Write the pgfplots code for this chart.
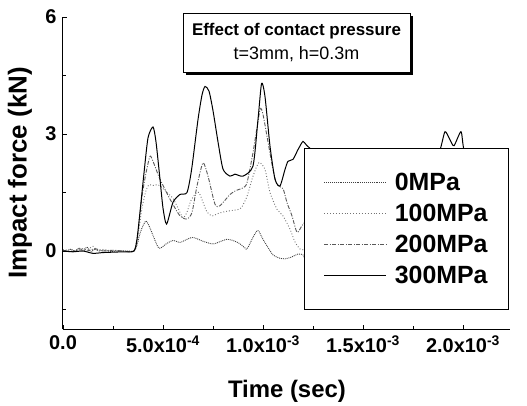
\documentclass[border=0pt]{standalone}
\usepackage{fontspec}
\setmainfont{Liberation Sans}
\usepackage{pgfplots}
\pgfplotsset{compat=1.18}
\usetikzlibrary{shadows}
\begin{document}
\begin{tikzpicture}
\path[use as bounding box] (-63bp,-77bp) rectangle (464bp,329bp);
\begin{axis}[
  scale only axis, width=447bp, height=312bp,
  xmin=0, xmax=2.235, ymin=-2, ymax=6,
  axis x line*=bottom, axis y line*=left,
  axis line style={line width=1bp, -},
  tick align=inside,
  major tick length=4bp, minor tick length=3bp,
  tick style={line width=0.8bp, black},
  xtick={0,0.5,1,1.5,2},
  minor xtick={0.25,0.75,1.25,1.75},
  xticklabels={0.0, 5.0x10\textsuperscript{-4}, 1.0x10\textsuperscript{-3}, 1.5x10\textsuperscript{-3}, 2.0x10\textsuperscript{-3}},
  ytick={0,3,6},
  minor ytick={-1.5,1.5,4.5},
  /pgf/number format/assume math mode=true,
  tick label style={font=\fontsize{20}{20}\selectfont\bfseries},
  xticklabel style={yshift=-3bp},
  yticklabel style={xshift=-3bp},
  xlabel={Time (sec)},
  ylabel={Impact force (kN)},
  xlabel style={font=\fontsize{24}{24}\selectfont\bfseries, at={(axis description cs:0.501,-0.2)}, anchor=center},
  ylabel style={font=\fontsize{26}{26}\selectfont\bfseries, at={(axis description cs:-0.0962,0.5)}, anchor=center, rotate=0},
  clip=false,
  legend cell align=left,
  legend image code/.code={\draw[#1] (0bp,0bp) -- (62bp,0bp);},
  legend style={draw=black, line width=0.8bp, fill=white,
    at={(axis cs:2.23,2.65)}, anchor=north east,
    font=\fontsize{25}{25}\selectfont\bfseries,
    inner xsep=19bp, inner ysep=23bp, row sep=8bp,
    /tikz/every odd column/.append style={column sep=6bp}},
]
\addplot[black!75, line width=0.9bp, densely dotted, smooth, tension=0.4] coordinates {
(0,0.03)(0.02,0.0)(0.04,0.05)(0.06,-0.01)(0.08,0.08)(0.1,0.02)(0.12,0.1)(0.14,-0.02)(0.16,0.05)(0.18,0.0)(0.2,0.02)(0.24,-0.01)(0.28,0.0)(0.32,0.0)(0.355,0.0)(0.37,0.15)(0.385,0.45)(0.4,0.65)(0.415,0.77)(0.43,0.65)(0.45,0.4)(0.475,0.1)(0.49,0.08)(0.515,0.18)(0.55,0.27)(0.585,0.22)(0.62,0.3)(0.65,0.35)(0.7,0.25)(0.75,0.18)(0.79,0.25)(0.82,0.3)(0.85,0.27)(0.88,0.2)(0.91,0.08)(0.92,0.05)(0.95,0.35)(0.97,0.52)(0.98,0.5)(1.0,0.3)(1.03,0.05)(1.05,-0.1)(1.08,-0.18)(1.11,-0.2)(1.14,-0.16)(1.175,-0.08)(1.2,-0.1)(1.215,-0.3)(1.225,-0.63)(1.3,-0.9)
};
\addlegendentry{0MPa}
\addplot[black!55, line width=0.9bp, dotted, smooth, tension=0.4] coordinates {
(0,0.0)(0.03,0.04)(0.06,0.0)(0.09,0.07)(0.12,0.03)(0.15,0.12)(0.17,0.02)(0.2,0.04)(0.25,0.0)(0.3,0.01)(0.355,0.0)(0.375,0.4)(0.395,1.1)(0.415,1.55)(0.43,1.7)(0.45,1.68)(0.475,1.7)(0.5,1.6)(0.52,1.5)(0.55,1.35)(0.575,1.1)(0.6,0.85)(0.62,1.0)(0.64,1.3)(0.665,1.48)(0.68,1.5)(0.7,1.25)(0.72,1.0)(0.745,0.9)(0.78,0.97)(0.82,1.02)(0.86,1.05)(0.89,1.1)(0.92,1.4)(0.95,1.92)(0.98,2.27)(1.01,2.09)(1.035,1.5)(1.07,1.07)(1.1,0.9)(1.135,0.56)(1.16,0.23)(1.185,0.05)(1.21,0.0)(1.225,-0.46)(1.3,-0.8)
};
\addlegendentry{100MPa}
\addplot[black!65, line width=0.9bp, dash pattern=on 4bp off 1.5bp on 1bp off 1.5bp, smooth, tension=0.4] coordinates {
(0,0.02)(0.04,-0.02)(0.08,0.03)(0.12,0.0)(0.16,0.06)(0.2,0.0)(0.25,0.02)(0.3,0.0)(0.355,0.0)(0.375,0.5)(0.395,1.4)(0.415,2.0)(0.435,2.43)(0.45,2.3)(0.485,1.84)(0.535,1.33)(0.585,0.9)(0.62,0.82)(0.645,0.99)(0.67,1.67)(0.7,2.26)(0.725,1.92)(0.76,1.2)(0.785,1.16)(0.835,1.45)(0.865,1.55)(0.9,1.62)(0.92,1.75)(0.95,2.52)(0.985,3.62)(1.0,3.5)(1.02,2.94)(1.05,2.09)(1.07,1.7)(1.1,1.6)(1.12,1.24)(1.145,0.9)(1.17,0.48)(1.195,0.65)(1.21,0.73)(1.225,0.5)(1.3,0.3)
};
\addlegendentry{200MPa}
\addplot[black, line width=1bp, smooth, tension=0.4] coordinates {
(0,0.0)(0.05,-0.02)(0.1,0.0)(0.15,-0.06)(0.2,-0.04)(0.25,-0.03)(0.3,-0.02)(0.355,0.0)(0.37,0.3)(0.385,1.0)(0.405,2.0)(0.425,2.9)(0.45,3.18)(0.465,2.8)(0.485,1.84)(0.5,1.1)(0.518,0.69)(0.55,1.25)(0.585,1.45)(0.62,1.5)(0.643,2.09)(0.675,3.37)(0.695,4.0)(0.71,4.22)(0.73,4.1)(0.75,3.6)(0.775,2.8)(0.8,2.1)(0.835,1.92)(0.86,1.97)(0.9,1.92)(0.95,2.18)(0.975,3.37)(0.993,4.3)(1.01,3.96)(1.035,2.69)(1.06,1.84)(1.085,1.67)(1.11,2.09)(1.125,2.3)(1.15,2.35)(1.175,2.6)(1.2,2.81)(1.22,2.7)(1.3,2.4)(1.5,2.2)(1.7,2.4)(1.85,2.5)(1.885,2.6)(1.91,3.06)(1.935,2.85)(1.955,2.7)(1.99,3.06)(2.005,2.6)(2.05,2.3)(2.2,2.2)
};
\addlegendentry{300MPa}
\node[draw=black, line width=0.8bp, fill=white,
  drop shadow={shadow xshift=3bp, shadow yshift=-3bp, opacity=1, fill=black},
  minimum width=227bp, minimum height=59bp, align=center,
  font=\fontsize{17}{24}\selectfont] at (axis cs:1.1675,5.34)
  {\bfseries Effect of contact pressure\\ \fontsize{18}{24}\selectfont t=3mm, h=0.3m};
\end{axis}
\end{tikzpicture}
\end{document}
